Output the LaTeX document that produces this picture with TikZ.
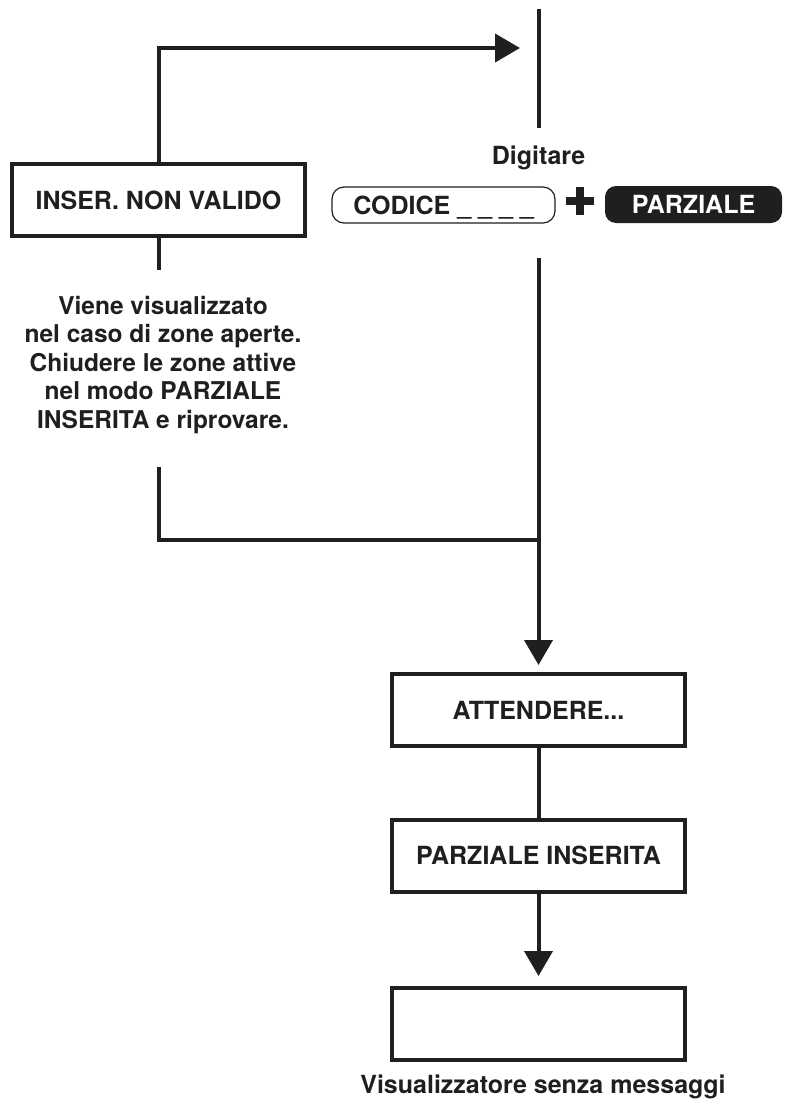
\documentclass[tikz,border=0pt]{standalone}
\usepackage{fontspec}
\setmainfont{TeX Gyre Heros}
\usetikzlibrary{arrows.meta}
\begin{document}
\begin{tikzpicture}[x=1pt,y=-1pt,
  line/.style={line width=4pt, draw=black!88},
  box/.style={draw=black!88, line width=4pt, minimum width=293pt, minimum height=72pt, inner sep=0pt,
    text height=18pt, text depth=0pt,
    font=\fontsize{25}{29}\selectfont\bfseries, text=black!88},
  tipA/.style={-{Triangle[length=25pt,width=28pt]}},
  txt/.style={font=\fontsize{25}{29}\selectfont\bfseries, align=center, inner sep=0pt, text=black!88},
  codbox/.style={draw=black!88, line width=1.2pt, rounded corners=12pt, minimum width=223pt, minimum height=36pt,
    inner sep=0pt, text height=18pt, text depth=0pt, font=\fontsize{25}{29}\selectfont\bfseries, text=black!88},
  keybox/.style={fill=black!88, rounded corners=11pt, minimum width=177pt, minimum height=37pt,
    inner sep=0pt, text height=18pt, text depth=0pt, font=\fontsize{25}{29}\selectfont\bfseries, text=white}
]
\useasboundingbox (0,0) rectangle (792,1111);

% left box and its connectors
\node[box] (inser) at (158.5,200) {INSER. NON VALIDO};
\coordinate (atip) at (520,48);
\draw[line,tipA] (inser.north) -- (inser.north |- atip) -- (atip);
\coordinate (stub) at (158.5,270);
\draw[line] (inser.south) -- (stub);

% top free line
\coordinate (vtop) at (538.5,9);
\coordinate (vbot) at (538.5,128);
\draw[line] (vtop) -- (vbot);

% keys
\node[txt, anchor=base] (dig) at (538.5,164) {Digitare};
\node[codbox] (codice) at (443.5,205) {CODICE \_ \_ \_ \_};
\node[minimum size=28pt, inner sep=0pt] (plus) at (580,201) {};
\draw[line width=7.5pt, draw=black!88] (plus.west) -- (plus.east) (plus.north) -- (plus.south);
\node[keybox] (parz) at (693.5,204.5) {PARZIALE};

% description
\node[txt, anchor=base, font=\fontsize{24.5}{28.5}\selectfont\bfseries] (desc) at (163,428) {Viene visualizzato\\nel caso di zone aperte.\\Chiudere le zone attive\\nel modo PARZIALE\\INSERITA e riprovare.};

% right column
\node[box] (att) at (538.5,710) {ATTENDERE...};
\node[box] (pins) at (538.5,855.5) {PARZIALE INSERITA};
\node[box] (empty) at (538.5,1024) {};
\node[txt, anchor=base] (vis) at (543,1093) {Visualizzatore senza messaggi};

\coordinate (midtop) at (538.5,258);
\draw[line,tipA,shorten >=7pt] (midtop) -- (att.north);
\coordinate (rettop) at (158.5,467);
\coordinate (join) at (538.5,540);
\draw[line] (rettop) -- (rettop |- join) -- (join);
\draw[line] (att.south) -- (pins.north);
\draw[line,tipA,shorten >=10pt] (pins.south) -- (empty.north);
\end{tikzpicture}
\end{document}
